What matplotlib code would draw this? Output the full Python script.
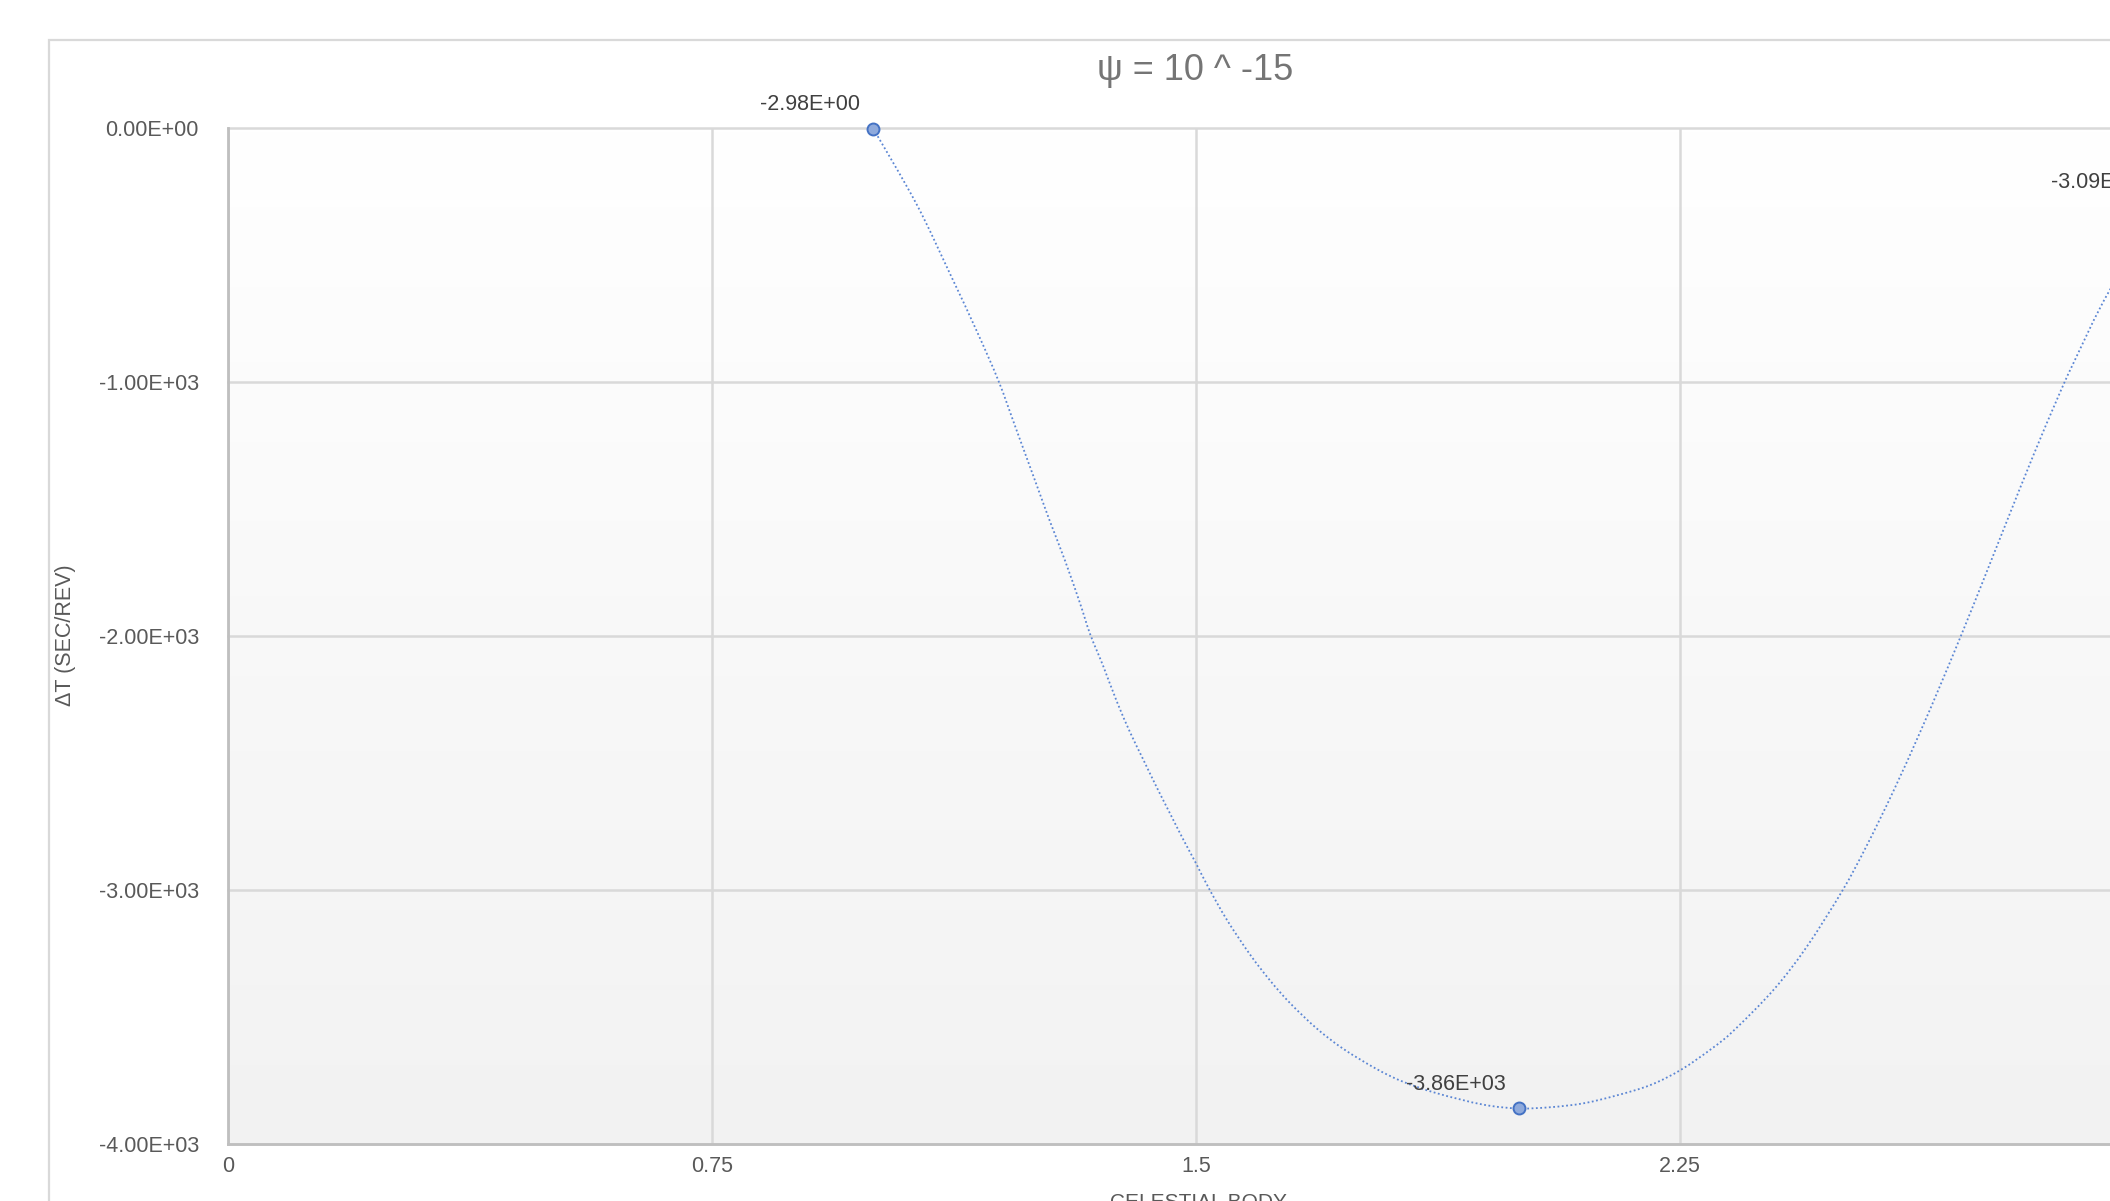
import matplotlib
matplotlib.use("Agg")
import matplotlib.pyplot as plt
import numpy as np
from matplotlib.colors import LinearSegmentedColormap
from matplotlib.patches import Rectangle, PathPatch
from matplotlib.path import Path
from matplotlib.ticker import FuncFormatter

plt.rcParams['font.family'] = ['Liberation Sans', 'DejaVu Sans']

# data points with markers and labels
point_x = [1, 2, 3]
point_y = [-2.98, -3860, -309]

# dotted line
curve_x = [1.000, 1.067, 1.119, 1.160, 1.194, 1.222, 1.253, 1.274, 1.297, 1.320,
           1.336, 1.356, 1.377, 1.398, 1.418, 1.439, 1.460, 1.480, 1.500, 1.519,
           1.548, 1.584, 1.615, 1.646, 1.687, 1.728, 1.780, 1.821, 1.873, 1.945,
           2.000, 2.050, 2.100, 2.150, 2.204, 2.252, 2.300, 2.333, 2.395, 2.446,
           2.502, 2.539, 2.581, 2.622, 2.653, 2.687, 2.720, 2.756, 2.798, 2.835,
           2.860, 2.916, 3.000]
curve_y = [-3, -300, -575, -798, -996, -1190, -1405, -1551, -1703, -1869,
           -1993, -2117, -2256, -2380, -2485, -2595, -2700, -2800, -2895, -2989,
           -3118, -3255, -3357, -3446, -3545, -3625, -3705, -3755, -3800, -3845,
           -3860, -3855, -3840, -3810, -3768, -3707, -3623, -3554, -3393, -3225,
           -3001, -2827, -2609, -2379, -2196, -1989, -1781, -1551, -1286, -1064,
           -924, -638, -309]

x_ticks = [0, 0.75, 1.5, 2.25]
y_ticks = [0, -1000, -2000, -3000, -4000]

title = "\u03c8 = 10 ^ -15"
x_title = "CELESTIAL BODY"
y_title = "\u0394T (SEC/REV)"

W, H = 2110, 1201
fig = plt.figure(figsize=(W / 100, H / 100), dpi=100, facecolor='white')

# plot area in pixels (right edge falls outside the picture)
left, right, top, bottom = 228, 2164, 128, 1144
ax = fig.add_axes([left / W, 1 - bottom / H, (right - left) / W, (bottom - top) / H])

# chart area border
fig.patches.append(Rectangle((49 / W, -0.5), (2341 - 49) / W, (H - 40) / H + 0.5,
                             transform=fig.transFigure, fill=False,
                             ec='#d9d9d9', lw=1.6, zorder=0))

# gradient background of plot area
grad = LinearSegmentedColormap.from_list('bg', ['#f2f2f2', '#ffffff'])
ax.imshow(np.linspace(0, 1, 256).reshape(-1, 1), cmap=grad, origin='lower',
          extent=[0, 1, 0, 1], transform=ax.transAxes, aspect='auto', zorder=0)

# smoothed line through the read points (cubic bezier segments)
pts = np.column_stack([curve_x, curve_y]).astype(float)
verts = [pts[0]]
codes = [Path.MOVETO]
n = len(pts)
for i in range(n - 1):
    p0 = pts[max(i - 1, 0)]
    p1 = pts[i]
    p2 = pts[i + 1]
    p3 = pts[min(i + 2, n - 1)]
    verts += [p1 + (p2 - p0) / 6, p2 - (p3 - p1) / 6, p2]
    codes += [Path.CURVE4] * 3
ax.add_patch(PathPatch(Path(verts, codes), fill=False, ec='#5b86d4', lw=1.3,
                       linestyle=(0, (1, 1.4)), zorder=3, clip_on=False))

ax.plot(point_x, point_y, 'o', ms=8.6, mfc='#8faadc', mec='#4472c4', mew=1.4,
        zorder=4, clip_on=False)

for x, y in zip(point_x, point_y):
    ax.annotate(f"{y:.2E}", (x, y), xytext=(-63, 24), textcoords='offset pixels',
                ha='center', va='center', fontsize=15.5, color='#404040',
                annotation_clip=False)

ax.set_xlim(0, 3.0)
ax.set_ylim(-4000, 0)
ax.set_xticks(x_ticks)
ax.set_yticks(y_ticks)
ax.xaxis.set_major_formatter(FuncFormatter(lambda v, p: f"{v:g}"))
ax.yaxis.set_major_formatter(FuncFormatter(lambda v, p: f"{v:.2E}"))
ax.tick_params(length=0, labelsize=15.5, labelcolor='#595959')
ax.tick_params(axis='x', pad=9)
ax.tick_params(axis='y', pad=21)

ax.grid(True, color='#d9d9d9', lw=1.8)
ax.set_axisbelow(True)
for line in ax.get_ygridlines():
    line.set_clip_on(False)

for s in ['top', 'right']:
    ax.spines[s].set_visible(False)
for s in ['left', 'bottom']:
    ax.spines[s].set_color('#bfbfbf')
    ax.spines[s].set_linewidth(2.0)

fig.text(1195 / W, 1 - 70 / H, title, ha='center', va='center',
         fontsize=26, color='#757575')
fig.text(65 / W, 1 - 635 / H, y_title, ha='center', va='center', rotation=90,
         fontsize=15.5, color='#595959')
fig.text(1198 / W, 1 - 1193 / H, x_title, ha='center', va='top',
         fontsize=15, color='#595959')

fig.savefig('out.png', dpi=100, facecolor='white')
